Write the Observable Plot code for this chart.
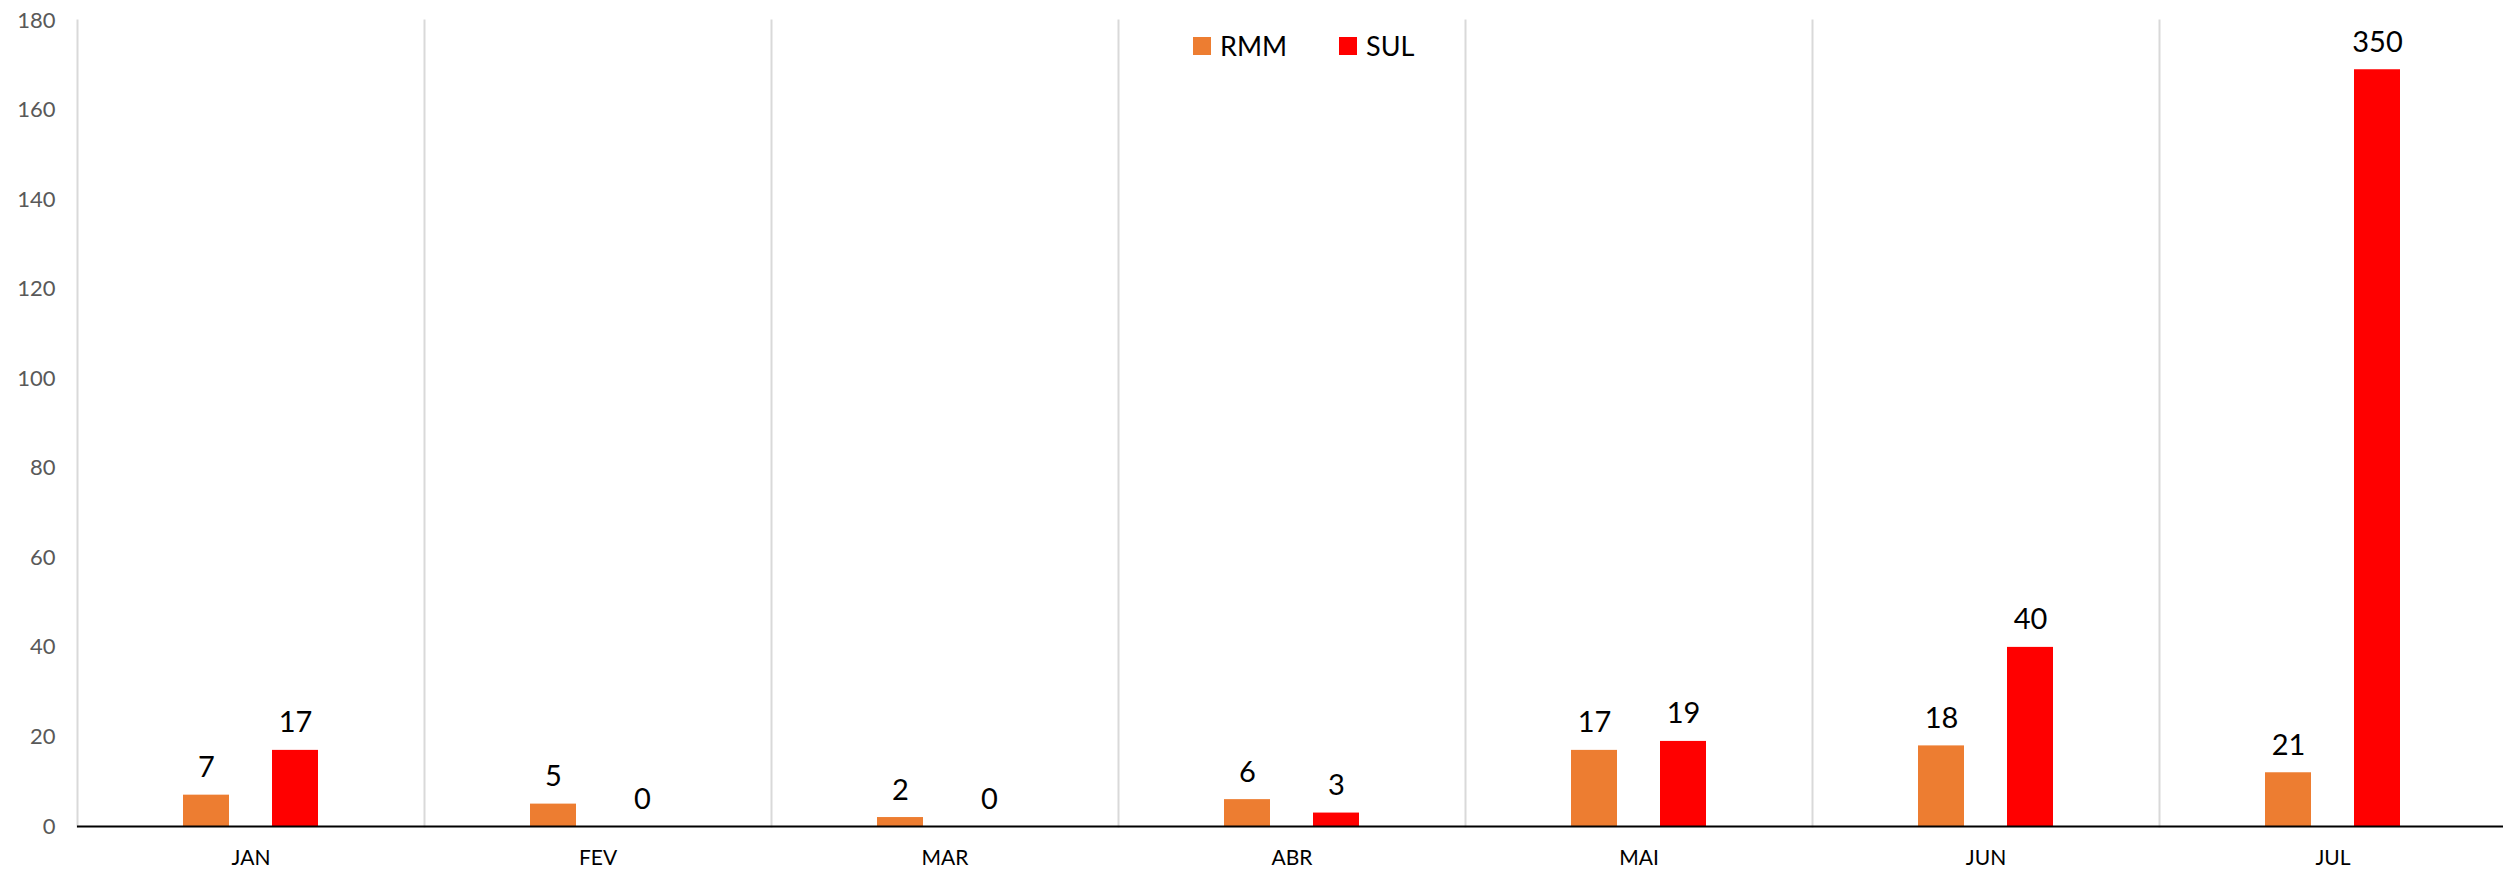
<!DOCTYPE html>
<html>
<head>
<meta charset="utf-8">
<script src="https://cdn.jsdelivr.net/npm/d3@7"></script>
<script src="https://cdn.jsdelivr.net/npm/@observablehq/plot@0.6"></script>
<style>
  html, body { margin: 0; padding: 0; background: #fff; overflow: hidden; }
  #wrap { position: relative; width: 2503px; height: 873px; overflow: hidden; font-family: Lato, "Open Sans", sans-serif; }
  .leg { position: absolute; top: 29px; display: flex; align-items: center; font-size: 27px; color: #000; }
  .leg span.sw { display: inline-block; width: 18px; height: 18px; margin-right: 9px; }
</style>
</head>
<body>
<div id="wrap"></div>
<script>
const months = ["JAN", "FEV", "MAR", "ABR", "MAI", "JUN", "JUL"];
const seriesNames = ["RMM", "SUL"];
const seriesColors = ["#ED7D31", "#FF0000"];
// bar heights as drawn
const rmmValues = [7, 5, 2, 6, 17, 18, 12];
const sulValues = [17, 0, 0, 3, 19, 40, 169];
// data labels as printed
const rmmLabels = [7, 5, 2, 6, 17, 18, 21];
const sulLabels = [17, 0, 0, 3, 19, 40, 350];
const yTicks = [0, 20, 40, 60, 80, 100, 120, 140, 160, 180];

const rows = [];
months.forEach((m, i) => {
  rows.push({month: m, series: "RMM", value: rmmValues[i], label: rmmLabels[i]});
  rows.push({month: m, series: "SUL", value: sulValues[i], label: sulLabels[i]});
});

const chart = Plot.plot({
  width: 2503,
  height: 873,
  marginLeft: 77,
  marginRight: -3,
  marginTop: 20,
  marginBottom: 47,
  style: {fontFamily: "Lato, 'Open Sans', sans-serif", background: "#fff", overflow: "hidden"},
  fx: {domain: months, padding: 0, axis: null},
  x: {domain: seriesNames, paddingInner: 0.478, paddingOuter: 1.167, axis: null},
  y: {domain: [0, 180], axis: null},
  color: {domain: seriesNames, range: seriesColors},
  marks: [
    Plot.frame({anchor: "left", stroke: "#d9d9d9", strokeWidth: 2}),
    Plot.barY(rows, {fx: "month", x: "series", y: "value", fill: "series"}),
    Plot.ruleY([0], {stroke: "#000", strokeWidth: 2}),
    Plot.text(rows, {fx: "month", x: "series", y: "value", text: "label", lineAnchor: "bottom", dy: -18, fontSize: 29, fill: "#000"}),
    Plot.axisY({ticks: yTicks, tickSize: 0, tickPadding: 22, fontSize: 22, color: "#595959", label: null}),
    Plot.axisFx({anchor: "bottom", tickSize: 0, tickPadding: 24, fontSize: 21, color: "#000", label: null})
  ]
});

const wrap = document.getElementById("wrap");
wrap.appendChild(chart);

seriesNames.forEach((s, i) => {
  const d = document.createElement("div");
  d.className = "leg";
  d.style.left = (i === 0 ? 1193 : 1339) + "px";
  d.innerHTML = `<span class="sw" style="background:${seriesColors[i]}"></span>${s}`;
  wrap.appendChild(d);
});
</script>
</body>
</html>
